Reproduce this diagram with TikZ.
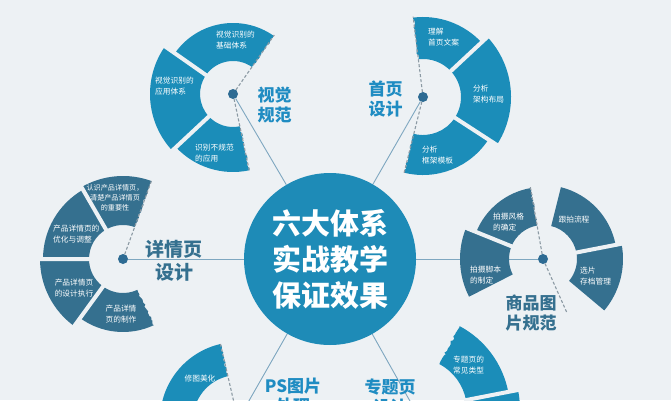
\documentclass[tikz,border=0pt]{standalone}
\usepackage{fontspec}
\setmainfont{Noto Sans CJK SC}
\usepackage{tikz}
\usetikzlibrary{decorations.pathmorphing}

\definecolor{bgcol}{HTML}{EDF1F4}
\definecolor{segblue}{HTML}{1B8DB9}
\definecolor{segslate}{HTML}{35708F}
\definecolor{hubblue}{HTML}{1E8BB7}
\definecolor{capblue}{HTML}{1F8CC2}
\definecolor{capslate}{HTML}{35708F}
\definecolor{wirecol}{HTML}{7EA7C0}
\definecolor{spotcol}{HTML}{2D6B93}
\definecolor{seamcol}{HTML}{8C9AA4}

\pgfdeclarelayer{back}
\pgfdeclarelayer{links}
\pgfsetlayers{back,links,main}

\begin{document}
\begin{tikzpicture}[
    x=1pt, y=1pt,
    hub/.style={circle, fill=hubblue, minimum size=172pt, inner sep=0pt, text=white, align=center, font=\bfseries\fontsize{29}{36}\selectfont},
    spot/.style={circle, fill=spotcol, minimum size=10pt, inner sep=0pt},
    wire/.style={draw=wirecol, line width=0.9pt},
    gapline/.style={draw=bgcol, line width=4pt},
    seam/.style={draw=seamcol, line width=1.1pt, dash pattern=on 3pt off 2pt},
    jag/.style={decoration={random steps, segment length=2pt, amplitude=1pt}},
    segtxt/.style={text=white, inner sep=0pt, font=\fontsize{7.7}{10.5}\selectfont},
    caption/.style={inner sep=0pt, align=center, font=\bfseries\fontsize{17}{20}\selectfont}
]
\pgfmathsetseed{7}
\useasboundingbox (0,0) rectangle (671,400);
\begin{pgfonlayer}{back}
  \fill[bgcol] (0,0) rectangle (671,400);
\end{pgfonlayer}
\clip (0,0) rectangle (671,400);

% visual ring
\begin{scope}[shift={(233,306)}]
  \fill[segblue] decorate[jag] {(55:71) -- (55:33)} arc[start angle=55, end angle=145, radius=33] -- (145:71) arc[start angle=145, end angle=55, radius=71] -- cycle;
  \fill[segblue] (145:33) -- (145:83) arc[start angle=145, end angle=223, radius=83] -- (223:33) arc[start angle=223, end angle=145, radius=33] -- cycle;
  \fill[segblue] decorate[jag] {(282:78) -- (282:33)} arc[start angle=282, end angle=223, radius=33] -- (223:78) arc[start angle=223, end angle=282, radius=78] -- cycle;
  \draw[gapline] (145:31) -- (145:90) (223:31) -- (223:90);
  \draw[seam] (0,0) -- (55:72) (0,0) -- (282:79);
\end{scope}

% home page ring
\begin{scope}[shift={(423,303)}]
  \fill[segblue] decorate[jag] {(97:80) -- (97:38)} arc[start angle=97, end angle=43, radius=38] -- (43:80) arc[start angle=43, end angle=97, radius=80] -- cycle;
  \fill[segblue] (-33:38) -- (-33:88) arc[start angle=-33, end angle=43, radius=88] -- (43:38) arc[start angle=43, end angle=-33, radius=38] -- cycle;
  \fill[segblue] decorate[jag] {(-104:78) -- (-104:38)} arc[start angle=-104, end angle=-33, radius=38] -- (-33:78) arc[start angle=-33, end angle=-104, radius=78] -- cycle;
  \draw[gapline] (43:36) -- (43:95) (-33:36) -- (-33:95);
  \draw[seam] (0,0) -- (97:81) (0,0) -- (-104:79);
\end{scope}

% detail page ring
\begin{scope}[shift={(123,141)}]
  \fill[segslate] decorate[jag] {(70:83) -- (70:34)} arc[start angle=70, end angle=120, radius=34] -- (120:83) arc[start angle=120, end angle=70, radius=83] -- cycle;
  \fill[segslate] (120:34) -- (120:80) arc[start angle=120, end angle=180, radius=80] -- (180:34) arc[start angle=180, end angle=120, radius=34] -- cycle;
  \fill[segslate] (180:34) -- (180:83) arc[start angle=180, end angle=234, radius=83] -- (234:34) arc[start angle=234, end angle=180, radius=34] -- cycle;
  \fill[segslate] decorate[jag] {(295:73) -- (295:34)} arc[start angle=295, end angle=234, radius=34] -- (234:73) arc[start angle=234, end angle=295, radius=73] -- cycle;
  \draw[gapline] (120:32) -- (120:90) (180:32) -- (180:90) (234:32) -- (234:90);
  \draw[seam] (0,0) -- (70:84);
\end{scope}

% product photo ring
\begin{scope}[shift={(543,141)}]
  \fill[segslate] decorate[jag] {(100:72) -- (100:34)} arc[start angle=100, end angle=158, radius=34] -- (158:72) arc[start angle=158, end angle=100, radius=72] -- cycle;
  \fill[segslate] (158:34) -- (158:83) arc[start angle=158, end angle=207, radius=83] -- (207:34) arc[start angle=207, end angle=158, radius=34] -- cycle;
  \fill[segslate] (11:34) -- (11:74) arc[start angle=11, end angle=76, radius=74] -- (76:34) arc[start angle=76, end angle=11, radius=34] -- cycle;
  \fill[segslate] (-40:34) -- (-40:80) arc[start angle=-40, end angle=11, radius=80] -- (11:34) arc[start angle=11, end angle=-40, radius=34] -- cycle;
  \draw[gapline] (158:32) -- (158:90) (11:32) -- (11:90);
  \draw[seam] (0,0) -- (100:73) (0,0) -- (-66:60);
\end{scope}

% ps ring
\begin{scope}[shift={(238,-20)}]
  \fill[segblue] decorate[jag] {(103:78) -- (103:45)} arc[start angle=103, end angle=180, radius=45] -- (180:78) arc[start angle=180, end angle=103, radius=78] -- cycle;
  \draw[seam] (0,0) -- (103:79);
\end{scope}

% topic page ring
\begin{scope}[shift={(415,-10)}]
  \fill[segblue] decorate[jag] {(62:95) -- (62:52)} arc[start angle=62, end angle=11, radius=52] -- (11:95) arc[start angle=11, end angle=62, radius=95] -- cycle;
  \fill[segblue] (-40:52) -- (-40:105) arc[start angle=-40, end angle=11, radius=105] -- (11:52) arc[start angle=11, end angle=-40, radius=52] -- cycle;
  \draw[gapline] (11:50) -- (11:112);
\end{scope}

\node[hub] (hub) at (330,141) {六大体系\\实战教学\\保证效果};

\node[spot] (vis) at (233,306) {};
\node[spot] (home) at (423,303) {};
\node[spot] (detail) at (123,141) {};
\node[spot] (photo) at (543,141) {};
\node[spot] (ps) at (238,-20) {};
\node[spot] (topic) at (415,-10) {};

\node[caption, text=capblue] (vislab) at (274.5,295) {视觉\\规范};
\node[caption, text=capblue] (homelab) at (385.5,301) {首页\\设计};
\node[caption, text=capslate, font=\bfseries\fontsize{19}{23}\selectfont] (detaillab) at (174,139.5) {详情页\\设计};
\node[caption, text=capslate] (photolab) at (531,86.5) {商品图\\片规范};
\node[caption, text=capblue] (pslab) at (293,3.5) {PS图片\\处理};
\node[caption, text=capblue] (topiclab) at (390,3.5) {专题页\\设计};

\node[segtxt, align=left, anchor=west] (vs1) at (216,360) {视觉识别的\\基础体系};
\node[segtxt, align=left, anchor=west] (vs2) at (155,314) {视觉识别的\\应用体系};
\node[segtxt, align=left, anchor=west] (vs3) at (195,247) {识别不规范\\的应用};

\node[segtxt, align=left, anchor=west] (hp1) at (428,363) {理解\\首页文案};
\node[segtxt, align=left, anchor=west] (hp2) at (473,306) {分析\\架构布局};
\node[segtxt, align=left, anchor=west] (hp3) at (422,245) {分析\\框架模板};

\node[segtxt, align=center, font=\fontsize{7.1}{10.2}\selectfont] (xq1) at (115,202) {认识产品详情页，\\清楚产品详情页\\的重要性};
\node[segtxt, align=left, anchor=west] (xq2) at (53,166) {产品详情页的\\优化与调整};
\node[segtxt, align=center] (xq3) at (74,112) {产品详情页\\的设计执行};
\node[segtxt, align=center] (xq4) at (121,86) {产品详情\\页的制作};

\node[segtxt, align=left, anchor=west] (sp1) at (493,178) {拍摄风格\\的确定};
\node[segtxt, align=left, anchor=west] (sp2) at (470,125) {拍摄脚本\\的制定};
\node[segtxt, align=center] (sp3) at (574,180) {跟拍流程};
\node[segtxt, align=left, anchor=west] (sp4) at (580,124) {选片\\存档管理};

\node[segtxt, align=center] (ps1) at (200,21) {修图美化};
\node[segtxt, align=left, anchor=west] (zt1) at (453,35) {专题页的\\常见类型};

\begin{pgfonlayer}{links}
  \begin{scope}
    \clip (0,0) rectangle (671,400);
    \draw[wire] (vis) -- (hub);
    \draw[wire] (home) -- (hub);
    \draw[wire] (detail) -- (hub);
    \draw[wire] (photo) -- (hub);
    \draw[wire] (ps) -- (hub);
    \draw[wire] (topic) -- (hub);
  \end{scope}
\end{pgfonlayer}

\end{tikzpicture}
\end{document}
